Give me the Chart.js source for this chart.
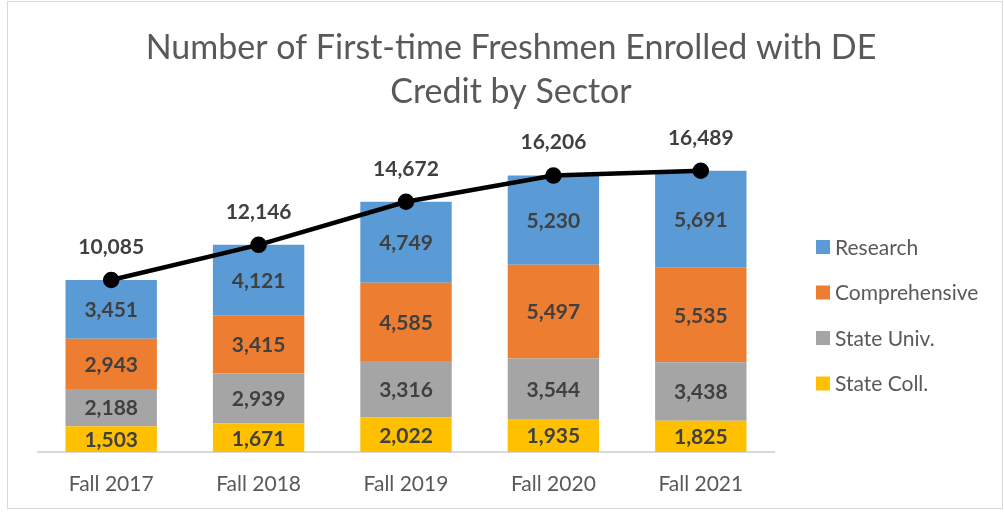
<!DOCTYPE html>
<html>
<head>
<meta charset="utf-8">
<script src="https://cdn.jsdelivr.net/npm/chart.js@4"></script>
<style>
  body { margin: 0; background: #fff; }
  #wrap { position: relative; width: 1004px; height: 512px; }
  #frame { position: absolute; left: 7px; top: 1px; width: 996px; height: 508px; border: 1px solid #d9d9d9; box-sizing: border-box; }
  canvas { position: absolute; left: 0; top: 0; }
</style>
</head>
<body>
<div id="wrap">
  <div id="frame"></div>
  <canvas id="chart" width="1004" height="512"></canvas>
</div>
<script>
const categories = ['Fall 2017', 'Fall 2018', 'Fall 2019', 'Fall 2020', 'Fall 2021'];
const stateColl = [1503, 1671, 2022, 1935, 1825];
const stateUniv = [2188, 2939, 3316, 3544, 3438];
const comprehensive = [2943, 3415, 4585, 5497, 5535];
const research = [3451, 4121, 4749, 5230, 5691];
const totals = [10085, 12146, 14672, 16206, 16489];
const titleLines = ['Number of First-time Freshmen Enrolled with DE', 'Credit by Sector'];

const FONT = 'Lato, "Noto Sans", sans-serif';
const fmt = v => v.toLocaleString('en-US');

// labels, title and legend drawn by hand
const extras = {
  id: 'extras',
  afterDatasetsDraw(chart) {
    const ctx = chart.ctx;
    ctx.save();
    ctx.textAlign = 'center';
    ctx.textBaseline = 'middle';
    ctx.fillStyle = '#404040';
    ctx.font = 'bold 21px ' + FONT;
    chart.data.datasets.forEach((ds, i) => {
      const meta = chart.getDatasetMeta(i);
      meta.data.forEach((el, j) => {
        if (ds.type === 'line') {
          ctx.fillText(fmt(ds.data[j]), el.x, el.y - 33);
        } else {
          ctx.fillText(fmt(ds.data[j]), el.x, (el.y + el.base) / 2 + 1);
        }
      });
    });

    // title
    ctx.fillStyle = '#595959';
    ctx.font = '34px ' + FONT;
    titleLines.forEach((t, k) => ctx.fillText(t, 511, 48 + k * 44));

    // legend, top entry is the top of the stack
    ctx.textAlign = 'left';
    ctx.font = '21px ' + FONT;
    const bars = chart.data.datasets.filter(d => d.type !== 'line').slice().reverse();
    bars.forEach((ds, k) => {
      const y = 247 + k * 45.5;
      ctx.fillStyle = ds.backgroundColor;
      ctx.fillRect(816, y - 7, 14, 14);
      ctx.fillStyle = '#595959';
      ctx.fillText(ds.label, 835, y + 1);
    });
    ctx.restore();
  }
};

new Chart(document.getElementById('chart'), {
  data: {
    labels: categories,
    datasets: [
      { type: 'line', label: 'Total', data: totals, stack: 'total', order: 0,
        borderColor: '#000', borderWidth: 4.5, pointRadius: 6, pointBackgroundColor: '#000',
        pointBorderColor: '#000', tension: 0 },
      { type: 'bar', label: 'State Coll.', data: stateColl, backgroundColor: '#FFC000', stack: 's', order: 1 },
      { type: 'bar', label: 'State Univ.', data: stateUniv, backgroundColor: '#A5A5A5', stack: 's', order: 1 },
      { type: 'bar', label: 'Comprehensive', data: comprehensive, backgroundColor: '#ED7D31', stack: 's', order: 1 },
      { type: 'bar', label: 'Research', data: research, backgroundColor: '#5B9BD5', stack: 's', order: 1 }
    ]
  },
  options: {
    responsive: false,
    animation: false,
    categoryPercentage: 1,
    barPercentage: 0.62,
    layout: { padding: { left: 37.5, right: 229.5, top: 145, bottom: 0 } },
    plugins: {
      legend: { display: false },
      title: { display: false },
      tooltip: { enabled: false }
    },
    scales: {
      x: {
        stacked: true,
        grid: { display: false, drawTicks: false },
        border: { color: '#d9d9d9', width: 2 },
        ticks: { color: '#595959', font: { family: FONT, size: 21 }, padding: 20 },
        afterFit: scale => { scale.height = 60; }
      },
      y: {
        stacked: true,
        display: false,
        min: 0,
        max: 18000
      }
    }
  },
  plugins: [extras]
});
</script>
</body>
</html>
